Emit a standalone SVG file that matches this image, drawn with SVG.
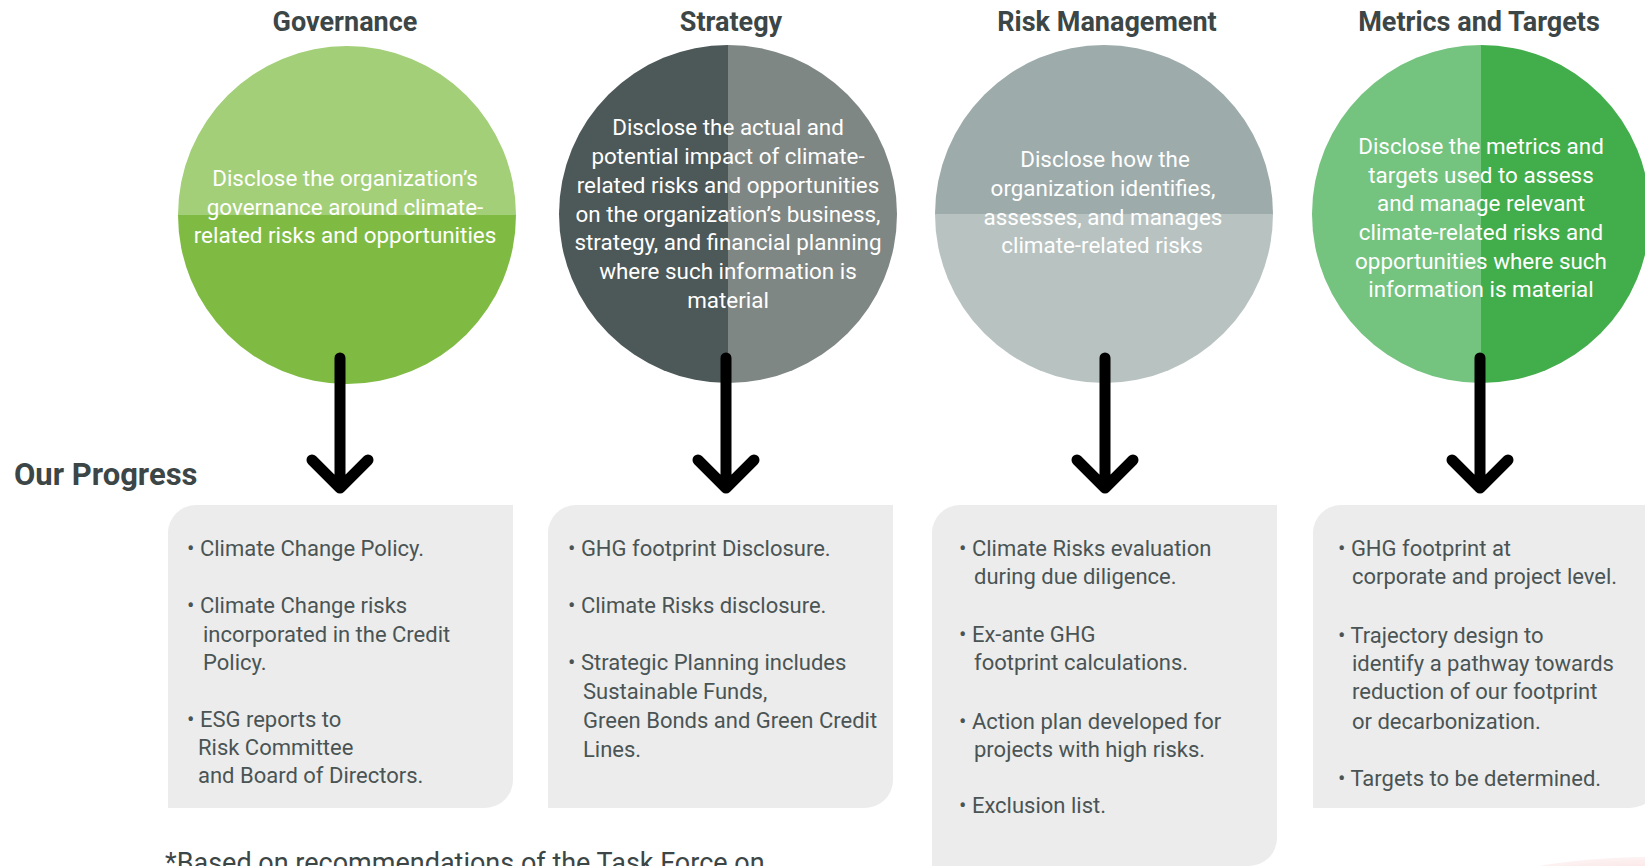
<svg xmlns="http://www.w3.org/2000/svg" width="1645" height="866" viewBox="0 0 1645 866">
<style>
.title{font-family:Roboto,"Liberation Sans",sans-serif;font-weight:700;font-size:27px;fill:#3c4646;text-anchor:middle}
.ct{font-family:Roboto,"Liberation Sans",sans-serif;font-size:22.4px;fill:#ffffff;text-anchor:middle}
.bt{font-family:Roboto,"Liberation Sans",sans-serif;font-size:22px;fill:#4a5454}
.box{fill:#ececec}
.arrow{fill:none;stroke:#000;stroke-width:11;stroke-linecap:round;stroke-linejoin:round}
</style>
<defs>
<radialGradient id="pink" cx="0.5" cy="0.5" r="0.5">
<stop offset="0" stop-color="#f6c9c9"/>
<stop offset="0.7" stop-color="#fbe4e4"/>
<stop offset="1" stop-color="#fdf2f2"/>
</radialGradient>
</defs>
<rect width="1645" height="866" fill="#ffffff"/>
<ellipse cx="1650" cy="905" rx="190" ry="48" fill="url(#pink)"/>

<g id="governance">
<text class="title" x="345" y="31">Governance</text>
<path d="M178,215 A169,169 0 0 1 516,215 Z" fill="#a3cf78"/>
<path d="M178,215 A169,169 0 0 0 516,215 Z" fill="#7fbb42"/>
<text class="ct" x="345" y="186">Disclose the organization’s</text>
<text class="ct" x="345" y="215">governance around climate-</text>
<text class="ct" x="345" y="243">related risks and opportunities</text>
</g>

<g id="strategy">
<text class="title" x="731" y="31">Strategy</text>
<path d="M728,45 A169,169 0 0 0 728,383 Z" fill="#4d5858"/>
<path d="M728,45 A169,169 0 0 1 728,383 Z" fill="#7f8784"/>
<text class="ct" x="728" y="135">Disclose the actual and</text>
<text class="ct" x="728" y="164">potential impact of climate-</text>
<text class="ct" x="728" y="193">related risks and opportunities</text>
<text class="ct" x="728" y="222">on the organization’s business,</text>
<text class="ct" x="728" y="250">strategy, and financial planning</text>
<text class="ct" x="728" y="279">where such information is</text>
<text class="ct" x="728" y="308">material</text>
</g>

<g id="risk-management">
<text class="title" x="1107" y="31">Risk Management</text>
<path d="M935,214 A169,169 0 0 1 1273,214 Z" fill="#9dabaa"/>
<path d="M935,214 A169,169 0 0 0 1273,214 Z" fill="#b8c3c1"/>
<text class="ct" x="1105" y="167">Disclose how the</text>
<text class="ct" x="1103" y="196">organization identifies,</text>
<text class="ct" x="1103" y="225">assesses, and manages</text>
<text class="ct" x="1102" y="253">climate-related risks</text>
</g>

<g id="metrics-and-targets">
<text class="title" x="1479" y="31">Metrics and Targets</text>
<path d="M1481,45 A169,169 0 0 0 1481,383 Z" fill="#74c37f"/>
<path d="M1481,45 A169,169 0 0 1 1481,383 Z" fill="#42ad4b"/>
<text class="ct" x="1481" y="154">Disclose the metrics and</text>
<text class="ct" x="1481" y="183">targets used to assess</text>
<text class="ct" x="1481" y="211">and manage relevant</text>
<text class="ct" x="1481" y="240">climate-related risks and</text>
<text class="ct" x="1481" y="269">opportunities where such</text>
<text class="ct" x="1481" y="297">information is material</text>
</g>

<g id="connectors">
<path class="arrow" d="M340,358 V486 M312,460 L340,488 L368,460"/>
<path class="arrow" d="M726,358 V486 M698,460 L726,488 L754,460"/>
<path class="arrow" d="M1105,358 V486 M1077,460 L1105,488 L1133,460"/>
<path class="arrow" d="M1480,358 V486 M1452,460 L1480,488 L1508,460"/>
</g>

<g id="our-progress">
<text x="14" y="485" font-family="Roboto,'Liberation Sans',sans-serif" font-weight="700" font-size="31" fill="#3c4646">Our Progress</text>
</g>

<g id="progress-governance">
<path class="box" d="M168,808 V533 A28,28 0 0 1 196,505 H513 V780 A28,28 0 0 1 485,808 Z"/>
<text class="bt" x="187" y="556">• Climate Change Policy.</text>
<text class="bt" x="187" y="613">• Climate Change risks</text>
<text class="bt" x="203" y="642">incorporated in the Credit</text>
<text class="bt" x="203" y="670">Policy.</text>
<text class="bt" x="187" y="727">• ESG reports to</text>
<text class="bt" x="198" y="755">Risk Committee</text>
<text class="bt" x="198" y="783">and Board of Directors.</text>
</g>

<g id="progress-strategy">
<path class="box" d="M548,808 V533 A28,28 0 0 1 576,505 H893 V780 A28,28 0 0 1 865,808 Z"/>
<text class="bt" x="568" y="556">• GHG footprint Disclosure.</text>
<text class="bt" x="568" y="613">• Climate Risks disclosure.</text>
<text class="bt" x="568" y="670">• Strategic Planning includes</text>
<text class="bt" x="583" y="699">Sustainable Funds,</text>
<text class="bt" x="583" y="728">Green Bonds and Green Credit</text>
<text class="bt" x="583" y="757">Lines.</text>
</g>

<g id="progress-risk">
<path class="box" d="M932,866 V533 A28,28 0 0 1 960,505 H1277 V838 A28,28 0 0 1 1249,866 Z"/>
<text class="bt" x="959" y="556">• Climate Risks evaluation</text>
<text class="bt" x="974" y="584">during due diligence.</text>
<text class="bt" x="959" y="642">• Ex-ante GHG</text>
<text class="bt" x="974" y="670">footprint calculations.</text>
<text class="bt" x="959" y="729">• Action plan developed for</text>
<text class="bt" x="974" y="757">projects with high risks.</text>
<text class="bt" x="959" y="813">• Exclusion list.</text>
</g>

<g id="progress-metrics">
<path class="box" d="M1313,808 V533 A28,28 0 0 1 1341,505 H1658 V780 A28,28 0 0 1 1630,808 Z"/>
<text class="bt" x="1338" y="556">• GHG footprint at</text>
<text class="bt" x="1352" y="584">corporate and project level.</text>
<text class="bt" x="1338" y="643">• Trajectory design to</text>
<text class="bt" x="1352" y="671">identify a pathway towards</text>
<text class="bt" x="1352" y="699">reduction of our footprint</text>
<text class="bt" x="1352" y="729">or decarbonization.</text>
<text class="bt" x="1338" y="786">• Targets to be determined.</text>
</g>

<g id="footnote">
<text x="165" y="872" font-family="Roboto,'Liberation Sans',sans-serif" font-size="27" fill="#3c4646">*Based on recommendations of the Task Force on</text>
</g>
</svg>
